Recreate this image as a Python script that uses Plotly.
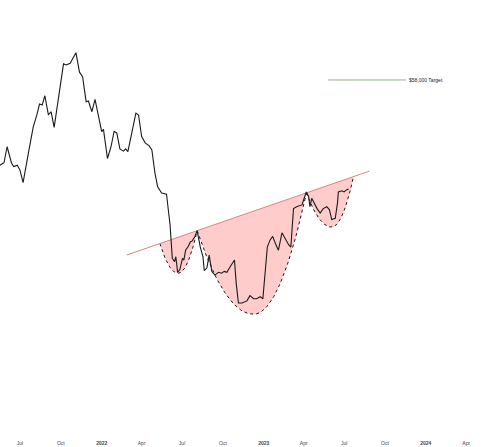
import numpy as np
import pandas as pd
import plotly.graph_objects as go

# BTC price
dates = [
    "2021-05-17", "2021-05-26", "2021-06-02", "2021-06-12", "2021-06-17", "2021-06-25",
    "2021-07-01", "2021-07-08", "2021-07-20", "2021-07-31", "2021-08-08", "2021-08-14",
    "2021-08-20", "2021-08-26", "2021-09-03", "2021-09-09", "2021-09-16", "2021-09-25",
    "2021-10-07", "2021-10-13", "2021-10-22", "2021-11-04", "2021-11-12", "2021-11-19",
    "2021-11-27", "2021-12-02", "2021-12-10", "2021-12-17", "2021-12-24", "2022-01-01",
    "2022-01-05", "2022-01-14", "2022-01-22", "2022-01-29", "2022-02-04", "2022-02-11",
    "2022-02-19", "2022-02-24", "2022-03-01", "2022-03-10", "2022-03-19", "2022-03-25",
    "2022-04-01", "2022-04-09", "2022-04-18", "2022-04-24", "2022-05-01", "2022-05-07",
    "2022-05-16", "2022-05-27", "2022-06-04", "2022-06-09", "2022-06-14", "2022-06-17",
    "2022-06-21", "2022-06-26", "2022-07-02", "2022-07-05", "2022-07-09", "2022-07-15",
    "2022-07-20", "2022-07-24", "2022-07-30", "2022-08-04", "2022-08-11", "2022-08-17",
    "2022-08-20", "2022-08-26", "2022-08-31", "2022-09-06", "2022-09-13", "2022-09-21",
    "2022-09-28", "2022-10-04", "2022-10-10", "2022-10-17", "2022-10-27", "2022-10-31",
    "2022-11-05", "2022-11-13", "2022-11-24", "2022-12-01", "2022-12-09", "2022-12-16",
    "2022-12-24", "2022-12-30", "2023-01-04", "2023-01-09", "2023-01-15", "2023-01-21",
    "2023-01-27", "2023-02-03", "2023-02-11", "2023-02-18", "2023-02-26", "2023-03-03",
    "2023-03-09", "2023-03-16", "2023-03-28", "2023-04-02", "2023-04-07", "2023-04-12",
    "2023-04-15", "2023-04-19", "2023-04-24", "2023-05-01", "2023-05-08", "2023-05-15",
    "2023-05-23", "2023-05-29", "2023-06-03", "2023-06-11", "2023-06-16", "2023-06-18",
    "2023-06-26", "2023-07-01", "2023-07-07", "2023-07-11",
]
prices = [
    35300, 35800, 39300, 35700, 35000, 35300,
    34300, 31900, 37900, 44200, 47300, 50400,
    50100, 52900, 47300, 48200, 44000, 51600,
    63700, 63300, 63900, 68000, 60700, 59100,
    51100, 51300, 48200, 51800, 47800, 42900,
    43500, 36700, 39300, 43000, 42600, 38800,
    38300, 38800, 38200, 42900, 47800, 47300,
    41700, 40200, 39500, 38600, 33700, 31100,
    30000, 29800, 24900, 20500, 20100, 20700,
    18900, 19200, 20500, 20300, 21500, 22000,
    22600, 22700, 23300, 24100, 21900, 20700,
    19100, 19400, 20900, 19000, 18600, 18900,
    18800, 19000, 18900, 19500, 20300, 17700,
    15800, 15800, 16000, 16500, 16200, 16200,
    16400, 16200, 19200, 21900, 22800, 23300,
    22400, 21500, 23800, 23000, 22200, 21900,
    27400, 27700, 28000, 29100, 30200, 29400,
    27700, 29100, 28300, 27400, 26700, 27400,
    27700, 27200, 25700, 25900, 28300, 30200,
    30400, 30200, 30600, 30700,
]

# neckline end points
neck_dates = ["2022-02-26", "2023-08-27"]
neck_prices = [20900, 34100]

# inverse head & shoulders bowls: left edge, bottom, right edge, bottom price
bowl_left = ["2022-05-12", "2022-08-04", "2023-04-07"]
bowl_bottom = ["2022-06-22", "2022-12-09", "2023-06-03"]
bowl_right = ["2022-08-04", "2023-04-07", "2023-07-22"]
bowl_low = [18800, 14800, 24600]

target_dates = ["2023-05-26", "2023-11-17"]
target_price = 58000

tick_vals = ["2021-07-01", "2021-10-01", "2022-01-01", "2022-04-01", "2022-07-01",
             "2022-10-01", "2023-01-01", "2023-04-01", "2023-07-01", "2023-10-01",
             "2024-01-01", "2024-04-01"]
tick_text = ["Jul", "Oct", "<b>2022</b>", "Apr", "Jul", "Oct", "<b>2023</b>", "Apr",
             "Jul", "Oct", "<b>2024</b>", "Apr"]

day0 = pd.Timestamp("2021-01-01")
to_days = lambda d: (pd.Timestamp(d) - day0).days
nd = [to_days(d) for d in neck_dates]
nl = np.log10(neck_prices)
neck_at = lambda t: nl[0] + (nl[1] - nl[0]) * (t - nd[0]) / (nd[1] - nd[0])

fig = go.Figure()

# shaded bowls below the neckline, dotted outline
for l, b, r, low in zip(bowl_left, bowl_bottom, bowl_right, bowl_low):
    t0, tv, t1 = to_days(l), to_days(b), to_days(r)
    yv = np.log10(low)
    ta = np.linspace(t0, tv, 40)
    tb = np.linspace(tv, t1, 40)[1:]
    ya = yv + (neck_at(t0) - yv) * ((ta - tv) / (t0 - tv)) ** 2
    yb = yv + (neck_at(t1) - yv) * ((tb - tv) / (t1 - tv)) ** 2
    t = np.concatenate([ta, tb])
    y = np.concatenate([ya, yb])
    fig.add_trace(go.Scatter(
        x=day0 + pd.to_timedelta(t, unit="D"), y=10 ** y,
        mode="lines", fill="toself", fillcolor="rgba(255,0,0,0.2)",
        line=dict(color="black", width=0.9, dash="dot"),
        hoverinfo="skip", showlegend=False,
    ))

fig.add_trace(go.Scatter(
    x=neck_dates, y=neck_prices, mode="lines",
    line=dict(color="#e57f80", width=1), showlegend=False,
))

fig.add_trace(go.Scatter(
    x=dates, y=prices, mode="lines",
    line=dict(color="#1a1a1a", width=1.1), showlegend=False,
))

fig.add_trace(go.Scatter(
    x=target_dates, y=[target_price] * 2, mode="lines",
    line=dict(color="#8fae8f", width=1), showlegend=False,
))
fig.add_annotation(
    x=target_dates[1], y=np.log10(target_price), text="$58,000 Target",
    showarrow=False, xanchor="left", yanchor="middle", xshift=1,
    font=dict(size=5, color="#222", family="Liberation Sans, Arial"),
)

fig.update_xaxes(
    range=["2021-05-17", "2024-06-16"],
    tickvals=tick_vals, ticktext=tick_text,
    tickfont=dict(size=5, color="#444", family="Liberation Sans, Arial"),
    showgrid=False, showline=False, zeroline=False, ticks="",
)
fig.update_yaxes(
    type="log", range=[3.8545, 4.9659], visible=False,
)
fig.update_layout(
    width=500, height=447,
    margin=dict(l=0, r=0, t=0, b=8),
    plot_bgcolor="white", paper_bgcolor="white",
    showlegend=False,
)

fig.write_html(
    "out.html",
    config={"displayModeBar": False},
    post_script="document.body.style.margin='0';",
)
